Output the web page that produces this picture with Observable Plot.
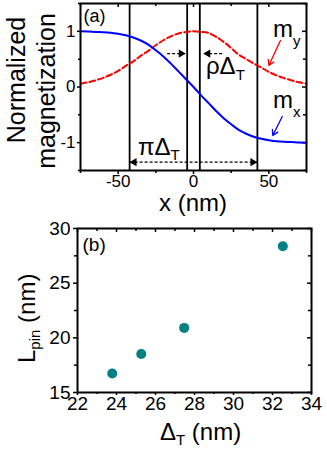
<!DOCTYPE html>
<html><head><meta charset="utf-8">
<script src="https://cdn.jsdelivr.net/npm/d3@7"></script>
<script src="https://cdn.jsdelivr.net/npm/@observablehq/plot@0.6"></script>
<style>
body{margin:0;background:#fff;}
#chart{width:327px;height:452px;}
#chart svg{display:block;}
</style></head><body><div id="chart"></div>
<script>
// ---------- Panel (a): magnetization profile ----------
const xNm = [-75,-70,-65,-60,-55,-50,-45,-40,-35,-30,-25,-20,-15,-10,-5,0,5,10,15,20,25,30,35,40,45,50,55,60,65,70,75];
const mx  = [1.0,0.997,0.99,0.985,0.975,0.955,0.93,0.89,0.835,0.76,0.66,0.55,0.42,0.28,0.14,0.0,-0.15,-0.29,-0.43,-0.56,-0.67,-0.77,-0.84,-0.895,-0.93,-0.955,-0.975,-0.985,-0.99,-0.997,-1.0];
const my  = [0.06,0.085,0.12,0.165,0.22,0.29,0.38,0.46,0.56,0.65,0.75,0.84,0.91,0.96,0.99,1.0,0.99,0.97,0.90,0.81,0.70,0.58,0.50,0.42,0.35,0.27,0.21,0.16,0.12,0.085,0.06];
const boundaryX = [-42.4, -4.2, 4.2, 42.4];
const xTicksA = [-50, 0, 50];
const xMinorA = [-75, -25, 25, 75];
const yTicksA = [-1, 0, 1];
const yMinorA = [-1.5, -0.5, 0.5, 1.5];

// ---------- Panel (b): pinning length ----------
const deltaT = [23.78, 25.27, 27.47, 32.53];
const Lpin   = [16.74, 18.52, 20.91, 28.38];
const xTicksB = [22, 24, 26, 28, 30, 32, 34];
const xMinorB = [23, 25, 27, 29, 31, 33];
const yTicksB = [15, 20, 25, 30];
const yMinorB = [17.5, 22.5, 27.5];

const FONT = "'Liberation Sans', Arial, sans-serif";
const fmt = d => String(d);

const rowsA = xNm.map((x, i) => ({x, mx: mx[i], my: my[i]}));
const piArrow = [{x1: boundaryX[0], x2: boundaryX[3], y: -1.35}];
const rhoArrows = [{x1: -17.5, x2: -5.2, y: 0.60}, {x1: 19.0, x2: 6.5, y: 0.60}];
const labelArrows = [
  {x1: 57.7, y1: 0.835, x2: 50.0, y2: 0.386, c: "#ff0000"},
  {x1: 58.9, y1: -0.53, x2: 52.6, y2: -0.871, c: "#0000ff"}
];
const headsRight = [
  {x: piArrow[0].x2, y: piArrow[0].y},
  {x: rhoArrows[0].x2, y: rhoArrows[0].y}
];
const headsLeft = [
  {x: piArrow[0].x1, y: piArrow[0].y},
  {x: rhoArrows[1].x2, y: rhoArrows[1].y}
];

const WA = 327, HA = 215, mLA = 80, mRA = 21, mTA = 3, mBA = 45;
const fwA = WA - mLA - mRA, fhA = HA - mTA - mBA;

const plotA = Plot.plot({
  width: WA, height: HA,
  marginLeft: mLA, marginRight: mRA, marginTop: mTA, marginBottom: mBA,
  x: {domain: [-75, 75]},
  y: {domain: [-1.5, 1.5]},
  style: {fontFamily: FONT, color: "#000", background: "#fff", overflow: "visible"},
  marks: [
    Plot.axisX({ticks: xTicksA, tickSize: 4, tickPadding: 0, fontSize: 17, tickFormat: fmt, label: null, strokeWidth: 1.5}),
    Plot.axisX({ticks: xMinorA, tickSize: 3, tickFormat: () => "", label: null, strokeWidth: 1.5}),
    Plot.axisY({ticks: yTicksA, tickSize: 3, tickPadding: 2, fontSize: 17, tickFormat: fmt, label: null, strokeWidth: 1.5}),
    Plot.axisY({ticks: yMinorA, tickSize: 2, tickFormat: () => "", label: null, strokeWidth: 1.5}),
    Plot.ruleX(xTicksA, {x: d => d, insetBottom: fhA - 4, strokeWidth: 1.5}),
    Plot.ruleX(xMinorA, {x: d => d, insetBottom: fhA - 3, strokeWidth: 1.5}),
    Plot.ruleY(yTicksA, {y: d => d, insetLeft: fwA - 4, strokeWidth: 1.5}),
    Plot.ruleY(yMinorA, {y: d => d, insetLeft: fwA - 3, strokeWidth: 1.5}),
    Plot.ruleX(boundaryX, {x: d => d, stroke: "#000", strokeWidth: 1.8}),
    Plot.line(rowsA, {x: "x", y: "my", stroke: "#ff0000", strokeWidth: 2, strokeDasharray: "6,3", curve: "catmull-rom"}),
    Plot.line(rowsA, {x: "x", y: "mx", stroke: "#0000ff", strokeWidth: 2, curve: "catmull-rom"}),
    Plot.link(piArrow, {x1: "x1", x2: "x2", y1: "y", y2: "y", stroke: "#000", strokeWidth: 1.2, strokeDasharray: "3,2", insetLeft: 6, insetRight: 6}),
    Plot.link(rhoArrows, {x1: "x1", x2: "x2", y1: "y", y2: "y", stroke: "#000", strokeWidth: 1.2, strokeDasharray: "3,2"}),
    Plot.dot(headsRight, {x: "x", y: "y", symbol: "triangle", r: 3, fill: "#000", stroke: null, rotate: 90, dx: -4.6}),
    Plot.dot(headsLeft, {x: "x", y: "y", symbol: "triangle", r: 3, fill: "#000", stroke: null, rotate: -90, dx: 4.6}),
    Plot.arrow(labelArrows, {x1: "x1", y1: "y1", x2: "x2", y2: "y2", stroke: "c", strokeWidth: 1.3, headLength: 7}),
    Plot.text(["(a)"], {frameAnchor: "top-left", dx: 3, dy: 6, lineAnchor: "top", textAnchor: "start", fontSize: 18}),
    Plot.frame({stroke: "#000", strokeWidth: 2})
  ]
});

const WB = 327, HB = 237, mLB = 77, mRB = 16, mTB = 13, mBB = 60;
const fwB = WB - mLB - mRB, fhB = HB - mTB - mBB;
const rowsB = deltaT.map((d, i) => ({d, L: Lpin[i]}));

const plotB = Plot.plot({
  width: WB, height: HB,
  marginLeft: mLB, marginRight: mRB, marginTop: mTB, marginBottom: mBB,
  x: {domain: [22, 34]},
  y: {domain: [15, 30]},
  style: {fontFamily: FONT, color: "#000", background: "#fff", overflow: "visible"},
  marks: [
    Plot.axisX({ticks: xTicksB, tickSize: 3, tickPadding: 1, fontSize: 19, tickFormat: fmt, label: null, strokeWidth: 1.5}),
    Plot.axisX({ticks: xMinorB, tickSize: 2, tickFormat: () => "", label: null, strokeWidth: 1.5}),
    Plot.axisY({ticks: yTicksB, tickSize: 4, tickPadding: 3, fontSize: 19, tickFormat: fmt, label: null, strokeWidth: 1.5}),
    Plot.axisY({ticks: yMinorB, tickSize: 3, tickFormat: () => "", label: null, strokeWidth: 1.5}),
    Plot.ruleX(xTicksB, {x: d => d, insetBottom: fhB - 4, strokeWidth: 1.5}),
    Plot.ruleX(xMinorB, {x: d => d, insetBottom: fhB - 3, strokeWidth: 1.5}),
    Plot.ruleY(yTicksB, {y: d => d, insetLeft: fwB - 4, strokeWidth: 1.5}),
    Plot.ruleY(yMinorB, {y: d => d, insetLeft: fwB - 3, strokeWidth: 1.5}),
    Plot.dot(rowsB, {x: "d", y: "L", r: 5, fill: "#008080", stroke: null}),
    Plot.text(["(b)"], {frameAnchor: "top-left", dx: 5, dy: 9, lineAnchor: "top", textAnchor: "start", fontSize: 19}),
    Plot.frame({stroke: "#000", strokeWidth: 2})
  ]
});

// ---------- text with subscripts (real SVG text) ----------
function richText(svg, x, y, parts, opts = {}) {
  const t = d3.select(svg).append("text")
    .attr("font-family", FONT)
    .attr("fill", opts.fill || "#000")
    .attr("text-anchor", opts.anchor || "start")
    .attr("transform", `translate(${x},${y})` + (opts.rotate ? ` rotate(${opts.rotate})` : ""));
  for (const p of parts) {
    t.append("tspan").attr("font-size", p.size).attr("dy", p.dy || 0).text(p.t);
  }
  return t;
}

const sxA = plotA.scale("x"), syA = plotA.scale("y");
const annA = [
  {x: -36.5, y: -1.226, main: "\u03c0\u0394", sub: "T", subDy: 5},
  {x: 8.6,   y: 0.223,  main: "\u03c1\u0394", sub: "T", subDy: 6},
  {x: 53.1,  y: 0.895,  main: "m", sub: "y", subDy: 9},
  {x: 53.1,  y: -0.38,  main: "m", sub: "x", subDy: 9}
];
for (const a of annA) {
  richText(plotA, sxA.apply(a.x), syA.apply(a.y), [
    {t: a.main, size: 24},
    {t: a.sub, size: 15, dy: a.subDy}
  ]);
}
// axis titles panel (a)
richText(plotA, mLA + fwA / 2, 211, [{t: "x (nm)", size: 24}], {anchor: "middle"});
richText(plotA, 25, 80, [{t: "Normalized", size: 25}], {anchor: "middle", rotate: -90});
richText(plotA, 55, 91, [{t: "magnetization", size: 25}], {anchor: "middle", rotate: -90});

// axis titles panel (b)
richText(plotB, 160, 225, [
  {t: "\u0394", size: 24},
  {t: "T", size: 15, dy: 5},
  {t: " (nm)", size: 24, dy: -5}
]);
richText(plotB, 35, 148, [
  {t: "L", size: 24},
  {t: "pin", size: 15, dy: 5},
  {t: " (nm)", size: 24, dy: -5}
], {rotate: -90});

const root = document.getElementById("chart");
root.appendChild(plotA);
root.appendChild(plotB);
</script>
</body></html>
